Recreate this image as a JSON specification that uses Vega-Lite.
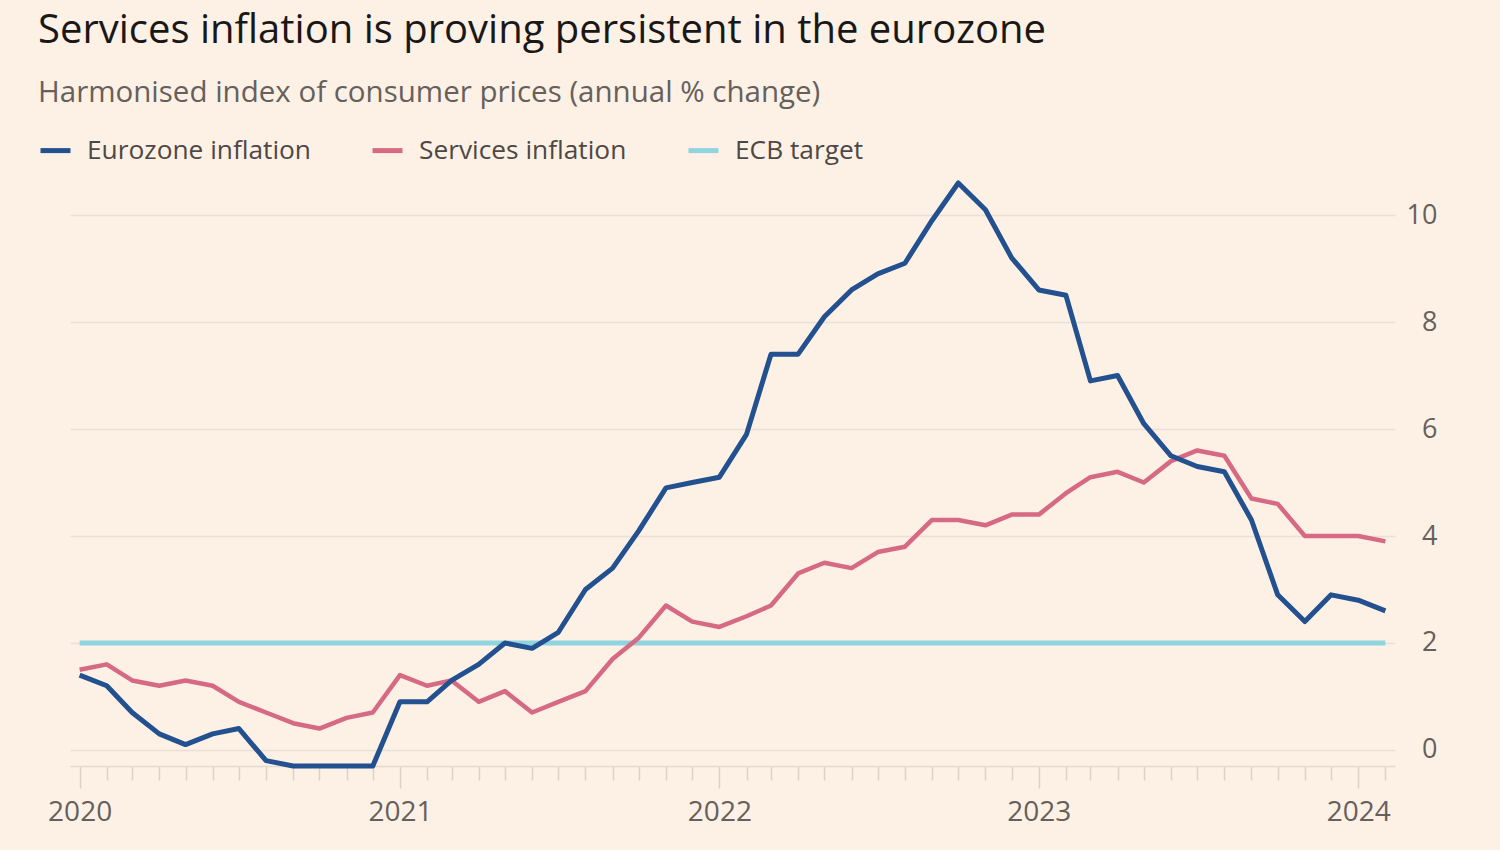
{
  "$schema": "https://vega.github.io/schema/vega-lite/v6.json",
  "autosize": {"type": "none"},
  "width": 1325,
  "height": 583,
  "padding": {"left": 70, "top": 183, "right": 105, "bottom": 84},
  "background": "#fdf1e6",
  "title": {
    "text": "Services inflation is proving persistent in the eurozone",
    "subtitle": "Harmonised index of consumer prices (annual % change)",
    "anchor": "start",
    "frame": "group",
    "dx": -32,
    "offset": 26,
    "font": "Open Sans",
    "fontSize": 40,
    "fontWeight": 500,
    "color": "#1a1817",
    "subtitleFont": "Open Sans",
    "subtitleFontSize": 29.5,
    "subtitleColor": "#66605c",
    "subtitlePadding": 28
  },
  "config": {
    "view": {"stroke": null},
    "font": "Open Sans"
  },
  "datasets": {
    "series": [
      {"date": "2020-01-01", "series": "Eurozone inflation", "value": 1.4},
      {"date": "2020-02-01", "series": "Eurozone inflation", "value": 1.2},
      {"date": "2020-03-01", "series": "Eurozone inflation", "value": 0.7},
      {"date": "2020-04-01", "series": "Eurozone inflation", "value": 0.3},
      {"date": "2020-05-01", "series": "Eurozone inflation", "value": 0.1},
      {"date": "2020-06-01", "series": "Eurozone inflation", "value": 0.3},
      {"date": "2020-07-01", "series": "Eurozone inflation", "value": 0.4},
      {"date": "2020-08-01", "series": "Eurozone inflation", "value": -0.2},
      {"date": "2020-09-01", "series": "Eurozone inflation", "value": -0.3},
      {"date": "2020-10-01", "series": "Eurozone inflation", "value": -0.3},
      {"date": "2020-11-01", "series": "Eurozone inflation", "value": -0.3},
      {"date": "2020-12-01", "series": "Eurozone inflation", "value": -0.3},
      {"date": "2021-01-01", "series": "Eurozone inflation", "value": 0.9},
      {"date": "2021-02-01", "series": "Eurozone inflation", "value": 0.9},
      {"date": "2021-03-01", "series": "Eurozone inflation", "value": 1.3},
      {"date": "2021-04-01", "series": "Eurozone inflation", "value": 1.6},
      {"date": "2021-05-01", "series": "Eurozone inflation", "value": 2.0},
      {"date": "2021-06-01", "series": "Eurozone inflation", "value": 1.9},
      {"date": "2021-07-01", "series": "Eurozone inflation", "value": 2.2},
      {"date": "2021-08-01", "series": "Eurozone inflation", "value": 3.0},
      {"date": "2021-09-01", "series": "Eurozone inflation", "value": 3.4},
      {"date": "2021-10-01", "series": "Eurozone inflation", "value": 4.1},
      {"date": "2021-11-01", "series": "Eurozone inflation", "value": 4.9},
      {"date": "2021-12-01", "series": "Eurozone inflation", "value": 5.0},
      {"date": "2022-01-01", "series": "Eurozone inflation", "value": 5.1},
      {"date": "2022-02-01", "series": "Eurozone inflation", "value": 5.9},
      {"date": "2022-03-01", "series": "Eurozone inflation", "value": 7.4},
      {"date": "2022-04-01", "series": "Eurozone inflation", "value": 7.4},
      {"date": "2022-05-01", "series": "Eurozone inflation", "value": 8.1},
      {"date": "2022-06-01", "series": "Eurozone inflation", "value": 8.6},
      {"date": "2022-07-01", "series": "Eurozone inflation", "value": 8.9},
      {"date": "2022-08-01", "series": "Eurozone inflation", "value": 9.1},
      {"date": "2022-09-01", "series": "Eurozone inflation", "value": 9.9},
      {"date": "2022-10-01", "series": "Eurozone inflation", "value": 10.6},
      {"date": "2022-11-01", "series": "Eurozone inflation", "value": 10.1},
      {"date": "2022-12-01", "series": "Eurozone inflation", "value": 9.2},
      {"date": "2023-01-01", "series": "Eurozone inflation", "value": 8.6},
      {"date": "2023-02-01", "series": "Eurozone inflation", "value": 8.5},
      {"date": "2023-03-01", "series": "Eurozone inflation", "value": 6.9},
      {"date": "2023-04-01", "series": "Eurozone inflation", "value": 7.0},
      {"date": "2023-05-01", "series": "Eurozone inflation", "value": 6.1},
      {"date": "2023-06-01", "series": "Eurozone inflation", "value": 5.5},
      {"date": "2023-07-01", "series": "Eurozone inflation", "value": 5.3},
      {"date": "2023-08-01", "series": "Eurozone inflation", "value": 5.2},
      {"date": "2023-09-01", "series": "Eurozone inflation", "value": 4.3},
      {"date": "2023-10-01", "series": "Eurozone inflation", "value": 2.9},
      {"date": "2023-11-01", "series": "Eurozone inflation", "value": 2.4},
      {"date": "2023-12-01", "series": "Eurozone inflation", "value": 2.9},
      {"date": "2024-01-01", "series": "Eurozone inflation", "value": 2.8},
      {"date": "2024-02-01", "series": "Eurozone inflation", "value": 2.6},
      {"date": "2020-01-01", "series": "Services inflation", "value": 1.5},
      {"date": "2020-02-01", "series": "Services inflation", "value": 1.6},
      {"date": "2020-03-01", "series": "Services inflation", "value": 1.3},
      {"date": "2020-04-01", "series": "Services inflation", "value": 1.2},
      {"date": "2020-05-01", "series": "Services inflation", "value": 1.3},
      {"date": "2020-06-01", "series": "Services inflation", "value": 1.2},
      {"date": "2020-07-01", "series": "Services inflation", "value": 0.9},
      {"date": "2020-08-01", "series": "Services inflation", "value": 0.7},
      {"date": "2020-09-01", "series": "Services inflation", "value": 0.5},
      {"date": "2020-10-01", "series": "Services inflation", "value": 0.4},
      {"date": "2020-11-01", "series": "Services inflation", "value": 0.6},
      {"date": "2020-12-01", "series": "Services inflation", "value": 0.7},
      {"date": "2021-01-01", "series": "Services inflation", "value": 1.4},
      {"date": "2021-02-01", "series": "Services inflation", "value": 1.2},
      {"date": "2021-03-01", "series": "Services inflation", "value": 1.3},
      {"date": "2021-04-01", "series": "Services inflation", "value": 0.9},
      {"date": "2021-05-01", "series": "Services inflation", "value": 1.1},
      {"date": "2021-06-01", "series": "Services inflation", "value": 0.7},
      {"date": "2021-07-01", "series": "Services inflation", "value": 0.9},
      {"date": "2021-08-01", "series": "Services inflation", "value": 1.1},
      {"date": "2021-09-01", "series": "Services inflation", "value": 1.7},
      {"date": "2021-10-01", "series": "Services inflation", "value": 2.1},
      {"date": "2021-11-01", "series": "Services inflation", "value": 2.7},
      {"date": "2021-12-01", "series": "Services inflation", "value": 2.4},
      {"date": "2022-01-01", "series": "Services inflation", "value": 2.3},
      {"date": "2022-02-01", "series": "Services inflation", "value": 2.5},
      {"date": "2022-03-01", "series": "Services inflation", "value": 2.7},
      {"date": "2022-04-01", "series": "Services inflation", "value": 3.3},
      {"date": "2022-05-01", "series": "Services inflation", "value": 3.5},
      {"date": "2022-06-01", "series": "Services inflation", "value": 3.4},
      {"date": "2022-07-01", "series": "Services inflation", "value": 3.7},
      {"date": "2022-08-01", "series": "Services inflation", "value": 3.8},
      {"date": "2022-09-01", "series": "Services inflation", "value": 4.3},
      {"date": "2022-10-01", "series": "Services inflation", "value": 4.3},
      {"date": "2022-11-01", "series": "Services inflation", "value": 4.2},
      {"date": "2022-12-01", "series": "Services inflation", "value": 4.4},
      {"date": "2023-01-01", "series": "Services inflation", "value": 4.4},
      {"date": "2023-02-01", "series": "Services inflation", "value": 4.8},
      {"date": "2023-03-01", "series": "Services inflation", "value": 5.1},
      {"date": "2023-04-01", "series": "Services inflation", "value": 5.2},
      {"date": "2023-05-01", "series": "Services inflation", "value": 5.0},
      {"date": "2023-06-01", "series": "Services inflation", "value": 5.4},
      {"date": "2023-07-01", "series": "Services inflation", "value": 5.6},
      {"date": "2023-08-01", "series": "Services inflation", "value": 5.5},
      {"date": "2023-09-01", "series": "Services inflation", "value": 4.7},
      {"date": "2023-10-01", "series": "Services inflation", "value": 4.6},
      {"date": "2023-11-01", "series": "Services inflation", "value": 4.0},
      {"date": "2023-12-01", "series": "Services inflation", "value": 4.0},
      {"date": "2024-01-01", "series": "Services inflation", "value": 4.0},
      {"date": "2024-02-01", "series": "Services inflation", "value": 3.9},
      {"date": "2020-01-01", "series": "ECB target", "value": 2},
      {"date": "2024-02-01", "series": "ECB target", "value": 2}
    ]
  },
  "data": {"name": "series"},
  "encoding": {
    "x": {
      "field": "date",
      "type": "temporal",
      "title": null,
      "scale": {"type": "utc", "domain": [{"year": 2019, "month": 12, "date": 21, "utc": true}, {"year": 2024, "month": 2, "date": 12, "utc": true}]},
      "axis": {
        "orient": "bottom",
        "tickCount": {"interval": "month", "step": 1},
        "labelExpr": "utcmonth(datum.value) === 0 ? utcFormat(datum.value, '%Y') : ''",
        "labelOverlap": false,
        "labelFlush": false,
        "labelBound": false,
        "grid": false,
        "domainColor": "#e3d9cf",
        "domainWidth": 1.5,
        "tickColor": "#dcd2c8",
        "tickWidth": 1.5,
        "tickSize": {"condition": {"test": "utcmonth(datum.value) === 0", "value": 22}, "value": 14},
        "labelPadding": 10,
        "labelFontSize": 28,
        "labelColor": "#66605c",
        "labelFont": "Open Sans"
      }
    },
    "y": {
      "field": "value",
      "type": "quantitative",
      "title": null,
      "scale": {"domain": [-0.3, 10.6], "nice": false, "zero": false},
      "axis": {
        "orient": "right",
        "values": [0, 2, 4, 6, 8, 10],
        "domain": false,
        "ticks": false,
        "grid": true,
        "gridColor": "#ebe0d6",
        "gridWidth": 1.5,
        "labelAlign": "right",
        "labelPadding": 42,
        "labelFontSize": 27,
        "labelColor": "#66605c",
        "labelFont": "Open Sans"
      }
    },
    "color": {
      "field": "series",
      "type": "nominal",
      "scale": {
        "domain": ["Eurozone inflation", "Services inflation", "ECB target"],
        "range": ["#23508f", "#d66a84", "#8fd4de"]
      },
      "legend": {
        "title": null,
        "orient": "none",
        "legendX": -32,
        "legendY": -50,
        "direction": "horizontal",
        "symbolType": "stroke",
        "symbolSize": 900,
        "symbolStrokeWidth": 5,
        "labelFontSize": 26.3,
        "labelFont": "Open Sans",
        "labelColor": "#4d4845",
        "labelOffset": 14,
        "columnPadding": 51,
        "labelLimit": 400
      }
    }
  },
  "layer": [
    {
      "transform": [{"filter": "datum.series === 'ECB target'"}],
      "mark": {"type": "line", "strokeWidth": 5, "strokeCap": "butt"}
    },
    {
      "transform": [{"filter": "datum.series === 'Services inflation'"}],
      "mark": {"type": "line", "strokeWidth": 4.5, "strokeJoin": "round"}
    },
    {
      "transform": [{"filter": "datum.series === 'Eurozone inflation'"}],
      "mark": {"type": "line", "strokeWidth": 5, "strokeJoin": "round"}
    }
  ]
}
